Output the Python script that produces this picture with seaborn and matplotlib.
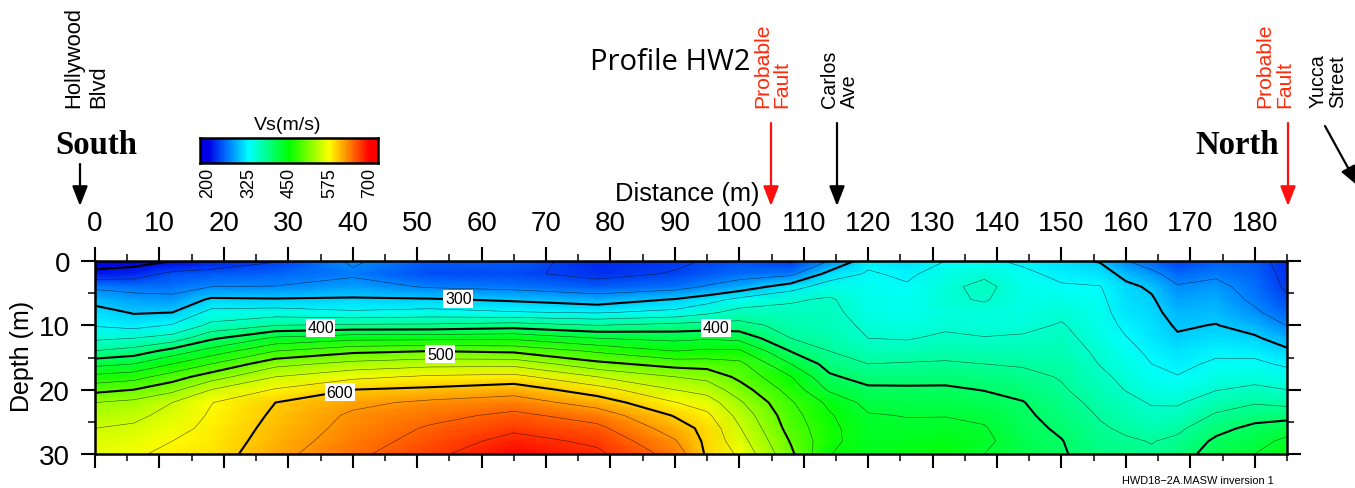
import numpy as np
import matplotlib
matplotlib.use("Agg")
import matplotlib.pyplot as plt
import seaborn as sns

W, H = 1355, 489

# grid: distance (m), depth (m), Vs (m/s) per distance column
distance = [0, 6, 12, 18, 28, 40, 52, 65, 78, 90, 95, 100, 108, 114, 120, 126, 132, 138, 144,
            150, 156, 160, 164, 168, 174, 180, 185]
depth = [0, 2, 4, 6, 8, 10, 12, 14, 16, 18, 20, 22, 24, 26, 28, 30]
vs_columns = [
    [180, 211, 261, 290, 311, 323, 345, 376, 417, 458, 492, 525, 537, 550, 558, 565],
    [185, 218, 256, 279, 298, 316, 350, 385, 425, 465, 500, 532, 544, 554, 563, 571],
    [200, 240, 256, 275, 300, 327, 360, 410, 450, 488, 518, 550, 558, 567, 575, 582],
    [215, 243, 267, 305, 333, 356, 395, 435, 475, 513, 550, 574, 578, 581, 584, 587],
    [231, 250, 268, 303, 337, 375, 430, 475, 517, 550, 577, 600, 604, 608, 612, 617],
    [272, 262, 280, 304, 329, 379, 442, 494, 533, 569, 600, 619, 629, 633, 638, 644],
    [245, 238, 264, 303, 334, 380, 443, 500, 541, 579, 605, 630, 642, 653, 660, 668],
    [245, 238, 258, 296, 327, 387, 445, 495, 542, 583, 614, 637, 656, 670, 684, 698],
    [220, 225, 245, 285, 323, 375, 425, 471, 507, 550, 586, 614, 639, 656, 670, 680],
    [228, 235, 255, 302, 332, 383, 418, 450, 490, 525, 550, 576, 598, 613, 627, 640],
    [235, 244, 270, 315, 345, 385, 422, 455, 488, 518, 540, 563, 580, 592, 594, 596],
    [240, 253, 284, 332, 359, 384, 418, 454, 482, 494, 512, 529, 542, 552, 561, 571],
    [228, 260, 314, 347, 357, 366, 375, 399, 425, 451, 465, 478, 485, 490, 498, 505],
    [268, 310, 338, 353, 357, 360, 367, 375, 390, 404, 421, 444, 453, 458, 458, 451],
    [318, 328, 331, 335, 338, 345, 350, 362, 375, 390, 405, 417, 427, 431, 434, 436],
    [310, 320, 328, 331, 334, 340, 348, 362, 377, 391, 404, 414, 424, 430, 436, 441],
    [325, 337, 344, 346, 342, 345, 355, 366, 378, 392, 404, 414, 424, 432, 440, 447],
    [330, 345, 357, 352, 342, 343, 351, 363, 375, 388, 399, 410, 420, 427, 431, 425],
    [320, 331, 336, 338, 339, 344, 353, 362, 372, 383, 393, 401, 405, 408, 411, 413],
    [310, 318, 328, 337, 345, 352, 357, 362, 368, 373, 378, 385, 390, 396, 401, 403],
    [298, 312, 326, 330, 333, 336, 340, 345, 349, 355, 361, 367, 373, 378, 382, 386],
    [268, 292, 306, 310, 314, 320, 326, 332, 338, 344, 349, 357, 364, 371, 378, 384],
    [250, 275, 296, 303, 307, 311, 315, 320, 325, 331, 339, 348, 356, 364, 374, 378],
    [232, 252, 270, 281, 290, 297, 303, 313, 319, 326, 336, 347, 358, 370, 380, 388],
    [245, 262, 275, 284, 293, 301, 310, 320, 329, 338, 349, 364, 378, 392, 405, 412],
    [243, 250, 255, 261, 272, 288, 304, 318, 330, 342, 355, 373, 389, 407, 416, 425],
    [222, 224, 228, 238, 250, 266, 286, 305, 321, 336, 350, 368, 391, 414, 431, 441],
]

thick_levels = [200, 300, 400, 500, 600]
thin_levels = [233, 267, 325, 350, 375, 425, 450, 475, 525, 550, 575, 625, 650, 675]

label_values = ["300", "400", "400", "500", "600"]
label_x = [56.4, 35, 96.4, 53.6, 38]
label_y = [5.9, 10.4, 10.4, 14.5, 20.4]

bar_ticks = [200, 325, 450, 575, 700]
ramp_colors = ["#0000e6", "#0080ff", "#00ffff", "#00ff80", "#00ff00",
               "#80ff00", "#ffff00", "#ff8000", "#ff0000"]

sns.set_style("ticks")
plt.rcParams["font.family"] = ["Liberation Sans", "DejaVu Sans"]
plt.rcParams["text.color"] = "black"
plt.rcParams["xtick.color"] = "black"
plt.rcParams["ytick.color"] = "black"
plt.rcParams["axes.edgecolor"] = "black"

cmap = sns.blend_palette(ramp_colors, as_cmap=True)
vs = np.array(vs_columns).T

fig = plt.figure(figsize=(W / 100, H / 100), dpi=100)
ax = fig.add_axes([95 / W, 1 - 455 / H, (1287 - 95) / W, (455 - 262) / H])

ax.pcolormesh(distance, depth, vs, cmap=cmap, vmin=200, vmax=700, shading="gouraud")
ax.contour(distance, depth, vs, levels=thin_levels, colors="black", linewidths=0.4, alpha=0.65)
ax.contour(distance, depth, vs, levels=thick_levels, colors="black", linewidths=1.5)

for txt, x, y in zip(label_values, label_x, label_y):
    ax.text(x, y, txt, fontsize=11.5, ha="center", va="center",
            bbox=dict(facecolor="white", edgecolor="none", pad=1.2))

ax.set_xlim(0, 185)
ax.set_ylim(30, 0)
ax.set_xticks(range(0, 190, 10))
ax.set_xticks(range(0, 190, 5), minor=True)
ax.set_yticks([0, 10, 20, 30])
ax.set_yticks([5, 15, 25], minor=True)
ax.tick_params(which="major", length=10, width=1.5, labelsize=20, top=True, bottom=True,
               left=True, right=True, labeltop=True, labelbottom=False, pad=8)
ax.tick_params(which="minor", length=5, width=1.1, top=True, bottom=True, left=True, right=True)
for s in ax.spines.values():
    s.set_linewidth(1.8)
    s.set_visible(True)
ax.set_axisbelow(False)


def label(px, py, txt, **kw):
    fig.text(px / W, 1 - py / H, txt, **kw)


def arrow(x0, y0, x1, y1, color):
    ax.annotate("", xy=(x1, H - y1), xytext=(x0, H - y0), xycoords="figure pixels",
                textcoords="figure pixels", annotation_clip=False,
                arrowprops=dict(arrowstyle="-|>,head_width=0.47,head_length=1.2", color=color,
                                lw=1.6, shrinkA=0, shrinkB=0, mutation_scale=10))


# legend bar, a single row heatmap
bar_lo, bar_hi = 175, 725
ramp = np.linspace(bar_lo, bar_hi, 256)[None, :]
cax = fig.add_axes([200 / W, 1 - 164 / H, 178 / W, 25 / H])
sns.heatmap(ramp, cmap=cmap, vmin=200, vmax=700, cbar=False, ax=cax, xticklabels=False,
            yticklabels=False)
cax.set_xticks([(v - bar_lo) / (bar_hi - bar_lo) * 256 for v in bar_ticks])
cax.set_xticklabels(bar_ticks, rotation=90, fontsize=13)
cax.tick_params(axis="x", length=0, pad=3)
cax.set_yticks([])
for s in cax.spines.values():
    s.set_visible(True)
    s.set_linewidth(1.8)
    s.set_color("black")

red = "#ff2a0a"
st = dict(rotation=90, ha="center", va="bottom", fontsize=15.8)
st_small = dict(st, fontsize=14.2)
label(74, 108, "Hollywood", **st)
label(99, 108, "Blvd", **st)
label(830, 108, "Carlos", **st_small)
label(849, 108, "Ave", **st_small)
label(1318, 108, "Yucca", **st_small)
label(1338, 108, "Street", **st_small)
st_red = dict(st, color=red, fontsize=15.2)
label(763, 108, "Probable", **st_red)
label(782, 108, "Fault", **st_red)
label(1265, 108, "Probable", **st_red)
label(1285, 108, "Fault", **st_red)

label(96, 145, "South", family="Liberation Serif", weight="bold", fontsize=23.6, ha="center", va="center")
label(1237, 145, "North", family="Liberation Serif", weight="bold", fontsize=23.6, ha="center", va="center")
label(670, 63, "Profile HW2", family="Open Sans", fontsize=21, ha="center", va="center")
label(687, 194, "Distance (m)", fontsize=18.4, ha="center", va="center")
label(288, 126, "Vs(m/s)", fontsize=14, ha="center", va="center")
label(22, 356, "Depth (m)", fontsize=18, rotation=90, ha="center", va="center")
label(1198, 481, "HWD18\u22122A.MASW inversion 1", fontsize=7.9, ha="center", va="center")

arrow(80, 165, 80, 207, "black")
arrow(837, 124, 837, 207, "black")
arrow(771, 124, 771, 207, "#ff1010")
arrow(1288, 124, 1288, 207, "#ff1010")
arrow(1325, 127, 1358, 187, "black")

fig.savefig("out.png", dpi=100)
